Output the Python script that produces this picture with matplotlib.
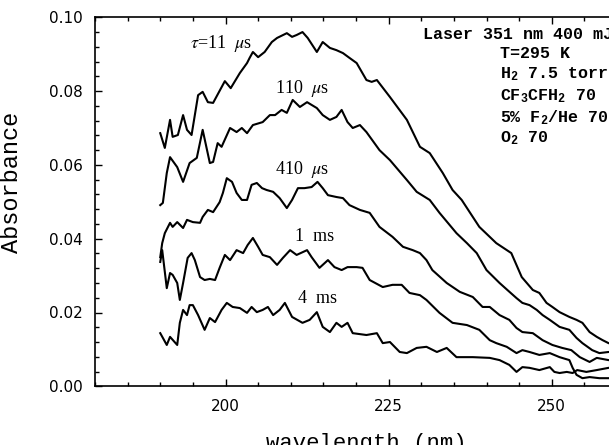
import numpy as np
import matplotlib
matplotlib.use("Agg")
import matplotlib.pyplot as plt
from matplotlib.ticker import MultipleLocator

plt.rcParams['mathtext.default'] = 'regular'
plt.rcParams['mathtext.fontset'] = 'stix'

# traced spectra (wavelength in nm, absorbance)
wl_11us = [190.0, 190.7, 191.5, 191.9, 192.7, 193.5, 194.1, 194.8, 195.8, 196.5,
           197.3, 198.1, 199.9, 200.8, 202.2, 203.3, 203.7, 204.2, 205.0, 206.0,
           207.1, 207.9, 209.4, 210.2, 210.9, 211.8, 212.6, 214.0, 214.9, 216.0,
           217.0, 218.0, 219.0, 220.1, 221.6, 222.4, 223.2, 225.2, 227.8, 229.8,
           231.3, 233.3, 234.8, 236.2, 238.9, 241.5, 243.8, 245.4, 247.1, 248.1,
           249.2, 250.1, 251.2, 252.7, 253.8, 254.7, 255.8, 256.9, 257.8, 258.7, 259.9]
abs_11us = [0.0686, 0.0646, 0.0722, 0.0676, 0.0681, 0.0735, 0.0695, 0.0681, 0.0789, 0.0798,
            0.0770, 0.0768, 0.0827, 0.0808, 0.0849, 0.0876, 0.0890, 0.0906, 0.0892, 0.0906,
            0.0933, 0.0944, 0.0957, 0.0947, 0.0952, 0.0960, 0.0944, 0.0906, 0.0933, 0.0917,
            0.0911, 0.0903, 0.0890, 0.0876, 0.0830, 0.0825, 0.0830, 0.0784, 0.0722, 0.0649,
            0.0632, 0.0578, 0.0532, 0.0505, 0.0432, 0.0388, 0.0361, 0.0296, 0.0261, 0.0253,
            0.0226, 0.0215, 0.0201, 0.0188, 0.0180, 0.0172, 0.0147, 0.0134, 0.0125, 0.0117, 0.0112]

wl_110us = [190.0, 190.4, 191.0, 191.5, 192.6, 193.5, 194.5, 195.6, 196.5, 197.6,
            198.1, 198.8, 199.4, 200.7, 201.7, 202.5, 203.3, 204.2, 205.7, 206.8,
            207.6, 208.6, 209.4, 210.3, 211.4, 212.5, 214.0, 214.9, 216.0, 217.0,
            217.8, 218.7, 219.5, 220.6, 221.6, 223.6, 225.2, 227.8, 229.3, 231.3,
            232.8, 235.4, 237.0, 238.5, 240.0, 242.0, 243.2, 244.6, 245.5, 246.6,
            247.7, 248.6, 249.7, 251.2, 252.7, 253.8, 254.7, 256.2, 257.3, 258.7, 259.9]
abs_110us = [0.0491, 0.0497, 0.0578, 0.0621, 0.0594, 0.0554, 0.0605, 0.0619, 0.0695, 0.0605,
             0.0608, 0.0659, 0.0649, 0.0700, 0.0689, 0.0700, 0.0686, 0.0708, 0.0716, 0.0735,
             0.0735, 0.0749, 0.0741, 0.0776, 0.0757, 0.0770, 0.0754, 0.0735, 0.0722, 0.0730,
             0.0749, 0.0716, 0.0700, 0.0708, 0.0689, 0.0640, 0.0613, 0.0559, 0.0527, 0.0505,
             0.0470, 0.0415, 0.0388, 0.0361, 0.0315, 0.0280, 0.0261, 0.0239, 0.0226, 0.0220,
             0.0207, 0.0193, 0.0180, 0.0161, 0.0153, 0.0131, 0.0117, 0.0098, 0.0090, 0.0093, 0.0092]

wl_410us = [190.0, 190.3, 190.7, 191.5, 191.9, 192.6, 193.5, 194.1, 195.0, 196.1,
            196.5, 197.3, 198.1, 199.1, 199.6, 200.2, 201.0, 201.7, 202.5, 203.3,
            204.0, 204.8, 205.6, 206.3, 207.3, 208.3, 209.4, 210.2, 211.1, 212.1,
            213.2, 214.1, 214.9, 215.7, 217.0, 218.0, 219.0, 220.6, 222.1, 223.6,
            225.6, 227.2, 228.7, 229.8, 230.8, 231.7, 233.9, 235.9, 237.9, 239.4,
            240.5, 242.0, 243.5, 244.6, 245.5, 247.1, 248.6, 250.1, 251.6, 253.0,
            254.3, 255.8, 256.9, 258.7, 259.9]
abs_410us = [0.0350, 0.0388, 0.0415, 0.0443, 0.0432, 0.0445, 0.0429, 0.0451, 0.0445, 0.0443,
             0.0459, 0.0478, 0.0472, 0.0499, 0.0524, 0.0564, 0.0554, 0.0524, 0.0505, 0.0505,
             0.0546, 0.0551, 0.0537, 0.0532, 0.0527, 0.0510, 0.0483, 0.0505, 0.0537, 0.0537,
             0.0540, 0.0554, 0.0537, 0.0518, 0.0513, 0.0510, 0.0491, 0.0478, 0.0470, 0.0432,
             0.0405, 0.0378, 0.0369, 0.0361, 0.0342, 0.0315, 0.0280, 0.0256, 0.0242, 0.0215,
             0.0215, 0.0193, 0.0180, 0.0158, 0.0147, 0.0144, 0.0125, 0.0112, 0.0104, 0.0098,
             0.0079, 0.0066, 0.0077, 0.0071, 0.0070]

wl_1ms = [190.0, 190.3, 191.0, 191.5, 191.9, 192.6, 193.0, 193.5, 194.2, 194.8,
          195.3, 196.1, 196.8, 197.6, 198.4, 199.1, 199.9, 200.7, 201.7, 202.7,
          203.4, 204.2, 205.0, 205.7, 206.8, 207.9, 208.8, 209.9, 210.9, 212.5,
          213.2, 214.4, 215.7, 216.7, 217.8, 218.7, 220.1, 221.0, 222.1, 224.1,
          225.6, 227.0, 228.2, 229.8, 230.8, 232.8, 234.8, 237.0, 238.9, 240.5,
          241.5, 243.1, 244.6, 245.5, 246.6, 248.1, 249.7, 251.2, 252.7, 253.2,
          253.8, 254.7, 255.8, 257.3, 258.7, 259.9]
abs_1ms = [0.0337, 0.0369, 0.0266, 0.0307, 0.0302, 0.0280, 0.0234, 0.0280, 0.0348, 0.0361,
           0.0342, 0.0296, 0.0288, 0.0291, 0.0288, 0.0321, 0.0356, 0.0342, 0.0369, 0.0361,
           0.0383, 0.0402, 0.0378, 0.0356, 0.0350, 0.0329, 0.0348, 0.0369, 0.0356, 0.0369,
           0.0350, 0.0321, 0.0342, 0.0323, 0.0315, 0.0323, 0.0323, 0.0321, 0.0288, 0.0269,
           0.0275, 0.0275, 0.0253, 0.0247, 0.0234, 0.0199, 0.0172, 0.0166, 0.0153, 0.0125,
           0.0117, 0.0107, 0.0090, 0.0098, 0.0093, 0.0085, 0.0090, 0.0079, 0.0071, 0.0050,
           0.0031, 0.0022, 0.0025, 0.0022, 0.0022, 0.0023]

wl_4ms = [190.0, 191.0, 191.5, 192.6, 193.0, 193.5, 194.1, 194.5, 195.0, 195.8,
          196.8, 197.6, 198.4, 199.4, 200.2, 201.1, 202.2, 203.3, 204.0, 204.8,
          205.7, 206.5, 207.3, 208.3, 209.1, 210.2, 211.8, 212.9, 214.0, 214.9,
          216.0, 217.0, 217.8, 218.7, 219.5, 221.6, 223.2, 224.1, 225.2, 226.7,
          227.8, 229.3, 230.8, 232.4, 233.9, 235.4, 237.9, 240.5, 242.0, 243.5,
          244.6, 245.5, 246.6, 248.1, 249.7, 250.4, 251.2, 252.3, 253.2, 253.9,
          255.3, 256.9, 258.7, 259.9]
abs_4ms = [0.0144, 0.0112, 0.0134, 0.0112, 0.0172, 0.0207, 0.0193, 0.0220, 0.0220, 0.0193,
           0.0153, 0.0185, 0.0174, 0.0207, 0.0226, 0.0215, 0.0212, 0.0199, 0.0215, 0.0201,
           0.0207, 0.0215, 0.0193, 0.0207, 0.0226, 0.0188, 0.0172, 0.0180, 0.0201, 0.0161,
           0.0147, 0.0172, 0.0161, 0.0172, 0.0144, 0.0139, 0.0144, 0.0117, 0.0120, 0.0093,
           0.0090, 0.0104, 0.0107, 0.0093, 0.0104, 0.0079, 0.0079, 0.0077, 0.0071, 0.0058,
           0.0039, 0.0052, 0.0050, 0.0044, 0.0052, 0.0039, 0.0036, 0.0039, 0.0036, 0.0044,
           0.0039, 0.0044, 0.0050, 0.0051]

curve_labels = [r'$\mathit{\tau}$=11  $\mathit{\mu}$s', r'110  $\mathit{\mu}$s',
                r'410  $\mathit{\mu}$s', '1  ms', '4  ms']

info_lines = ['Laser 351 nm 400 mJ', 'T=295 K', r'H$_2$ 7.5 torr',
              r'CF$_3$CFH$_2$ 70', r'5% F$_2$/He 70', r'O$_2$ 70']

fig = plt.figure(figsize=(6.09, 4.45), dpi=100)
ax = fig.add_axes([95 / 609, 58.7 / 445, 522 / 609, 369 / 445])

for wl, a in [(wl_11us, abs_11us), (wl_110us, abs_110us), (wl_410us, abs_410us),
              (wl_1ms, abs_1ms), (wl_4ms, abs_4ms)]:
    ax.plot(wl, a, color='black', lw=1.5, solid_joinstyle='round')

# curve labels (left edge, baseline)
label_pos = [(194.5, 0.0917), (207.6, 0.0795), (207.6, 0.0575), (210.6, 0.0394), (211.1, 0.0226)]
for (x, y), txt in zip(label_pos, curve_labels):
    ax.text(x, y, txt, family='Liberation Serif', fontsize=13, ha='left', va='baseline')

# experimental conditions
info_y = [0.0940, 0.0889, 0.0836, 0.0776, 0.0716, 0.0660]
for i, (txt, y) in enumerate(zip(info_lines, info_y)):
    x = 230.2 if i == 0 else 242.0
    ax.text(x, y, txt, family='Liberation Mono', fontsize=12, fontweight='bold',
            ha='left', va='baseline')

ax.set_xlim(180, 260)
ax.set_ylim(0, 0.10)
ax.set_xticks([200, 225, 250])
ax.xaxis.set_minor_locator(MultipleLocator(5))
ax.set_yticks([0.0, 0.02, 0.04, 0.06, 0.08, 0.10])
ax.set_yticklabels(['0.00', '0.02', '0.04', '0.06', '0.08', '0.10'])
ax.yaxis.set_minor_locator(MultipleLocator(0.004))

ax.tick_params(which='both', direction='in', top=True, right=True, width=1.0)
ax.tick_params(which='major', length=5)
ax.tick_params(which='minor', length=3)
ax.tick_params(axis='x', pad=9, labelsize=11)
ax.tick_params(axis='y', pad=9, labelsize=11)
for s in ax.spines.values():
    s.set_linewidth(1.2)

ax.set_xlabel('wavelength (nm)', family='Liberation Mono', fontsize=16)
ax.set_ylabel('Absorbance', family='Liberation Mono', fontsize=17)
ax.xaxis.set_label_coords(0.519, -0.126)
ax.yaxis.set_label_coords(-0.138, 0.553)

fig.savefig('out.png', dpi=100)
